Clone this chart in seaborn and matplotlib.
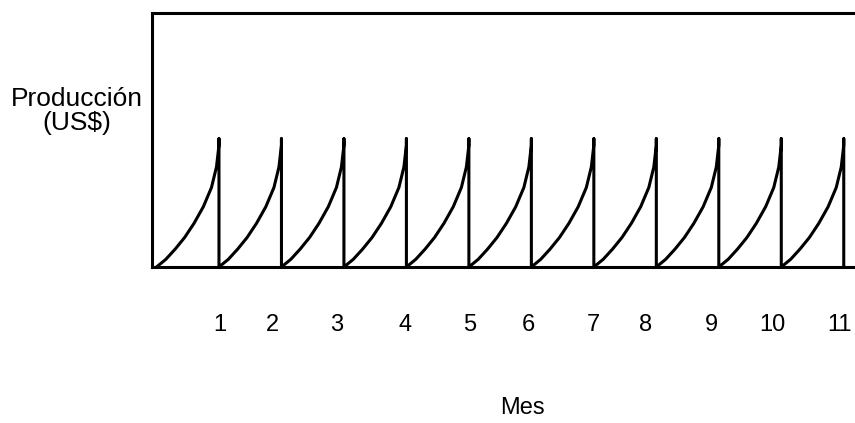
import numpy as np
import pandas as pd
import matplotlib
matplotlib.use("Agg")
import matplotlib.pyplot as plt
import seaborn as sns

# months shown on the chart
months = list(range(1, 12))
# shape of one monthly production curve
# (fraction of the month elapsed, fraction of the peak)
curve_frac = [0.0, 0.15, 0.30, 0.45, 0.60, 0.75, 0.88, 0.96, 1.0]
curve_height = [0.0, 0.06, 0.14, 0.23, 0.34, 0.47, 0.62, 0.78, 0.95]
peak = 1.0
# tick label positions as printed (they do not sit exactly under the month ends)
tick_pos = [1.02, 1.85, 2.89, 3.98, 5.02, 5.96, 7.0, 7.82, 8.89, 9.86, 10.93]
tick_labels = [str(m) for m in months]

# build one continuous sawtooth path
rows = []
order = 0
for m in months:
    start = m - 1
    for f, h in zip(curve_frac, curve_height):
        rows.append({'order': order, 'x': start + f, 'y': h * peak})
        order += 1
    rows.append({'order': order, 'x': m, 'y': peak})
    order += 1
    rows.append({'order': order, 'x': m, 'y': 0.0})
    order += 1
df = pd.DataFrame(rows)

sns.set_style('white')
plt.rcParams['font.family'] = ['Liberation Sans', 'DejaVu Sans']
plt.rcParams['text.color'] = 'black'
plt.rcParams['xtick.color'] = 'black'

fig = plt.figure(figsize=(8.55, 4.23), dpi=100)
ax = fig.add_axes([152 / 855, 1 - 267 / 423, 1 - 152 / 855, 254 / 423])

sns.lineplot(data=df, x='x', y='y', sort=False, estimator=None,
             color='black', linewidth=2.2, ax=ax)

ax.set_xlim(-0.072, 11.18)
ax.set_ylim(0, 1.98)
ax.set_yticks([])
ax.set_xticks(tick_pos)
ax.set_xticklabels(tick_labels, fontsize=17, color='black')
ax.tick_params(axis='x', length=0, pad=34)
ax.set_xlabel('')
ax.set_ylabel('')

for side in ['left', 'top', 'bottom']:
    ax.spines[side].set_visible(True)
    ax.spines[side].set_linewidth(2.2)
    ax.spines[side].set_color('black')
ax.spines['right'].set_visible(False)

fig.text(77 / 855, 1 - 111 / 423, 'Producción\n(US$)', ha='center', va='center',
         fontsize=19, linespacing=1.0, color='black')
fig.text(522 / 855, 1 - 408 / 423, 'Mes', ha='center', va='center', fontsize=17,
         color='black')

fig.savefig('out.png', dpi=100, facecolor='white')
